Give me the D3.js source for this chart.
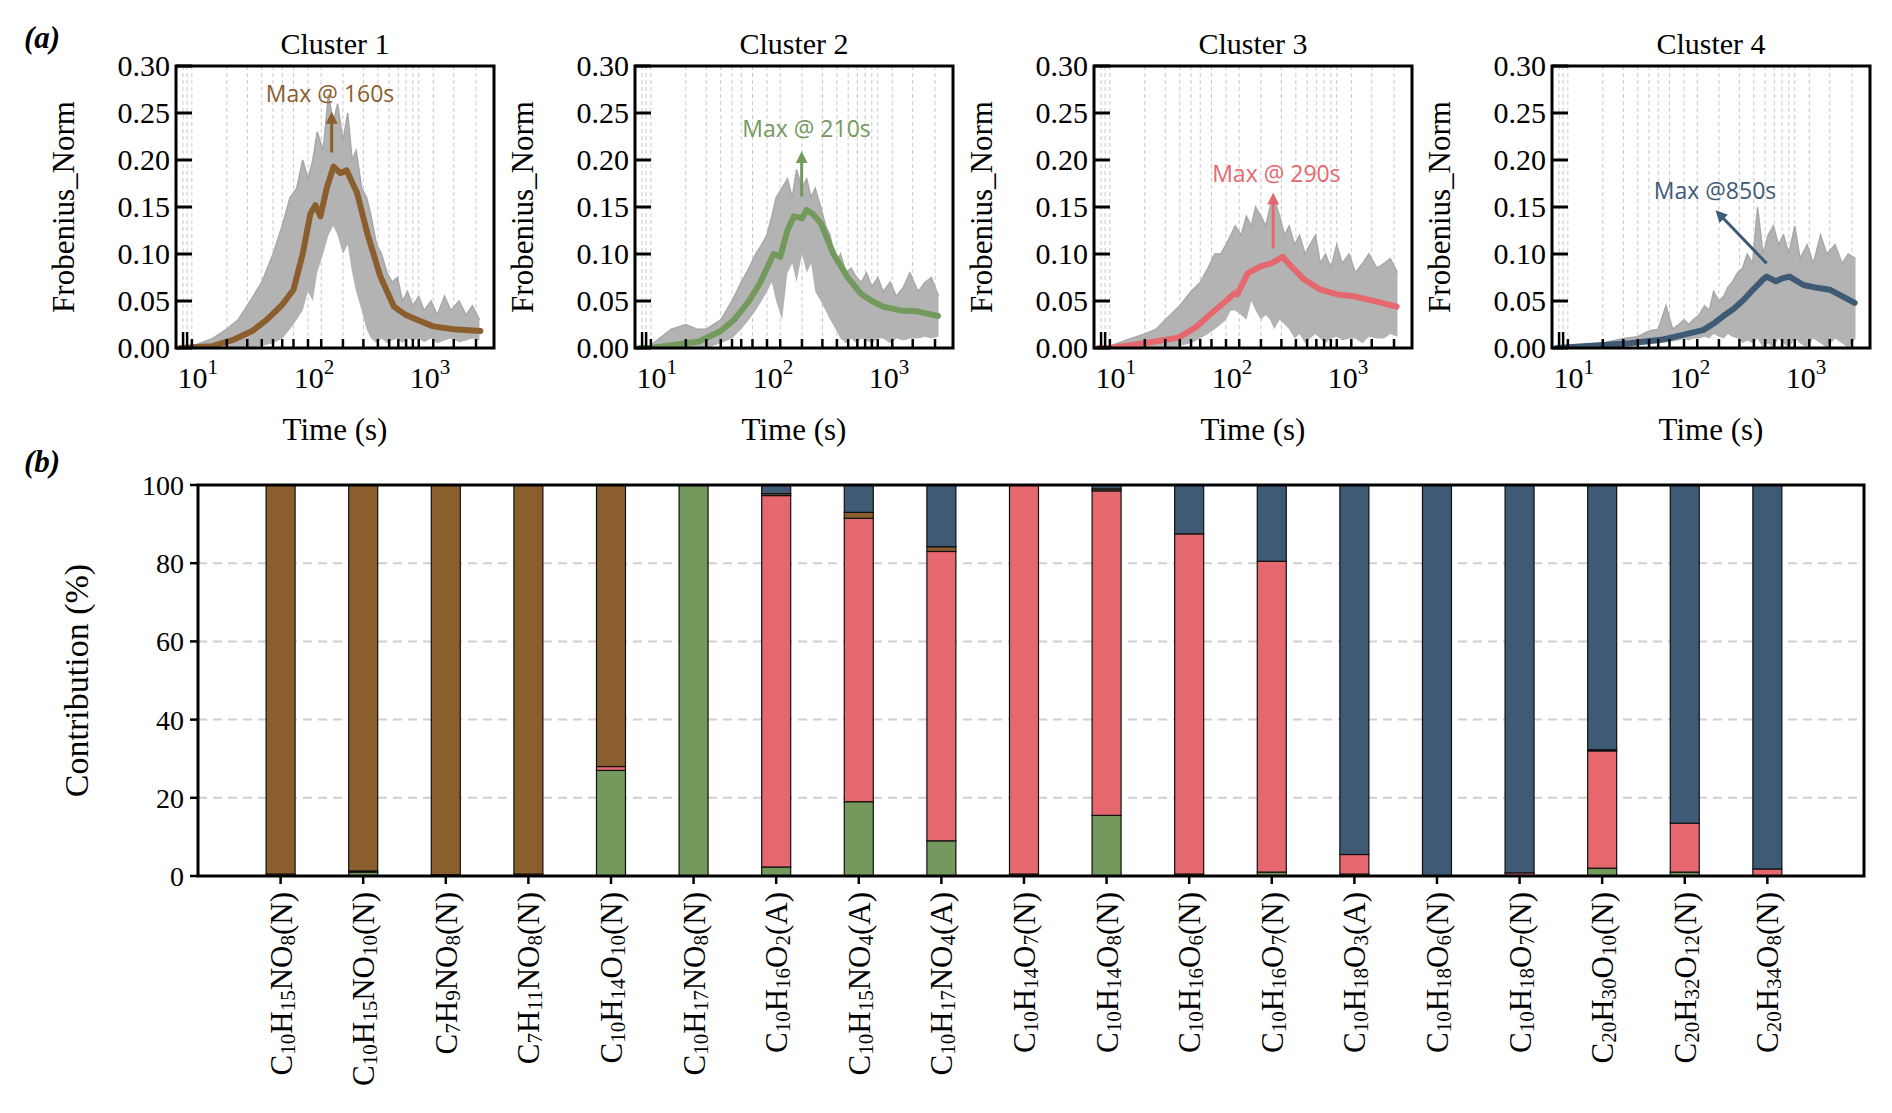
<!DOCTYPE html>
<html><head><meta charset="utf-8">
<script src="https://cdn.jsdelivr.net/npm/d3@7"></script>
<style>body{margin:0;background:#fff}svg{display:block}</style>
</head><body><div id="chart"></div>
<script>
const W = 1892, H = 1113;
const serif = "Liberation Serif, Times New Roman, serif";
const sans = "Open Sans, Noto Sans, sans-serif";

const clusterNames = ["Cluster 1", "Cluster 2", "Cluster 3", "Cluster 4"];
const clusterColors = ["#8B5E2E", "#74995C", "#E5686E", "#3F5A75"];

// sample times shown as dashed grid lines / rug ticks
const gridTimes = [8.4, 9.1, 10, 20, 30, 40, 50, 60, 75, 100, 130, 200, 300, 400, 500, 600, 700, 800, 900, 1200, 1800, 2800];

// main (mean) curves
const c1Times = [8, 15, 23, 33, 44, 60, 75, 90, 105, 116, 128, 145, 166, 190, 215, 240, 265, 324, 420, 550, 700, 870, 1200, 1800, 3050];
const c1Vals = [0, 0.002, 0.009, 0.018, 0.03, 0.046, 0.062, 0.1, 0.143, 0.152, 0.14, 0.17, 0.193, 0.186, 0.189, 0.176, 0.165, 0.122, 0.076, 0.044, 0.035, 0.03, 0.023, 0.02, 0.018];
const c2Times = [8, 10, 26, 40, 52, 70, 87, 114, 130, 150, 170, 200, 220, 250, 290, 374, 490, 640, 800, 1000, 1400, 1950, 2970];
const c2Vals = [0, 0, 0.007, 0.018, 0.03, 0.05, 0.069, 0.1, 0.097, 0.125, 0.14, 0.138, 0.147, 0.142, 0.133, 0.1, 0.076, 0.058, 0.05, 0.044, 0.04, 0.039, 0.034];
const c3Times = [8, 10, 20, 39, 55, 75, 100, 118, 125, 155, 200, 245, 270, 307, 363, 470, 650, 910, 1260, 1750, 2950];
const c3Vals = [0, 0, 0.005, 0.011, 0.022, 0.037, 0.05, 0.058, 0.057, 0.08, 0.087, 0.09, 0.093, 0.097, 0.087, 0.073, 0.062, 0.057, 0.055, 0.051, 0.044];
const c4Times = [8, 34, 66, 98, 146, 180, 218, 270, 325, 400, 480, 515, 620, 700, 810, 1070, 1400, 1800, 2950];
const c4Vals = [0, 0.005, 0.009, 0.014, 0.019, 0.026, 0.034, 0.042, 0.051, 0.063, 0.073, 0.076, 0.071, 0.074, 0.076, 0.067, 0.064, 0.062, 0.048];

// envelope of individual (grey) traces
const envTimes = [8, 10, 15, 20, 25, 30, 40, 50, 60, 70, 80, 90, 100, 110, 120, 135, 150, 165, 180, 200, 220, 240, 260, 290, 320, 350, 390, 430, 480, 530, 590, 650, 720, 800, 900, 1000, 1150, 1300, 1500, 1700, 2000, 2300, 2600, 3000];
const c1Upper = [0, 0.002, 0.01, 0.02, 0.03, 0.045, 0.07, 0.1, 0.13, 0.16, 0.17, 0.2, 0.18, 0.2, 0.23, 0.21, 0.27, 0.24, 0.26, 0.22, 0.25, 0.2, 0.21, 0.17, 0.16, 0.14, 0.11, 0.1, 0.08, 0.07, 0.075, 0.05, 0.06, 0.045, 0.055, 0.04, 0.05, 0.035, 0.055, 0.04, 0.05, 0.035, 0.045, 0.03];
const c1Lower = [0, 0, 0, 0, 0, 0, 0.002, 0.005, 0.01, 0.02, 0.03, 0.04, 0.06, 0.05, 0.08, 0.1, 0.12, 0.13, 0.12, 0.1, 0.11, 0.08, 0.06, 0.04, 0.02, 0.01, 0.005, 0.01, 0.005, 0.008, 0.01, 0.005, 0.01, 0.008, 0.01, 0.006, 0.01, 0.005, 0.008, 0.01, 0.006, 0.008, 0.01, 0.008];
const c2Upper = [0, 0.003, 0.02, 0.025, 0.02, 0.02, 0.03, 0.05, 0.07, 0.085, 0.1, 0.11, 0.12, 0.14, 0.16, 0.17, 0.18, 0.16, 0.19, 0.17, 0.18, 0.16, 0.17, 0.15, 0.13, 0.12, 0.09, 0.1, 0.08, 0.085, 0.075, 0.07, 0.08, 0.065, 0.075, 0.06, 0.07, 0.055, 0.065, 0.08, 0.06, 0.07, 0.075, 0.055];
const c2Lower = [0, 0, 0, 0, 0, 0, 0.005, 0.01, 0.02, 0.03, 0.04, 0.05, 0.06, 0.07, 0.05, 0.03, 0.08, 0.09, 0.07, 0.1, 0.08, 0.09, 0.06, 0.05, 0.04, 0.03, 0.02, 0.01, 0.005, 0.01, 0.005, 0.01, 0.008, 0.005, 0.01, 0.01, 0.005, 0.01, 0.008, 0.01, 0.01, 0.012, 0.01, 0.012];
const c3Upper = [0, 0.002, 0.01, 0.015, 0.02, 0.03, 0.045, 0.06, 0.07, 0.085, 0.1, 0.1, 0.11, 0.12, 0.13, 0.12, 0.14, 0.13, 0.15, 0.14, 0.13, 0.15, 0.16, 0.14, 0.12, 0.13, 0.11, 0.12, 0.1, 0.11, 0.12, 0.09, 0.1, 0.085, 0.11, 0.09, 0.1, 0.08, 0.09, 0.1, 0.085, 0.09, 0.095, 0.08];
const c3Lower = [0, 0, 0, 0, 0, 0, 0.002, 0.005, 0.01, 0.015, 0.02, 0.025, 0.03, 0.04, 0.04, 0.035, 0.03, 0.05, 0.04, 0.03, 0.035, 0.03, 0.02, 0.03, 0.025, 0.02, 0.01, 0.015, 0.005, 0.01, 0.015, 0.01, 0.005, 0.01, 0.012, 0.008, 0.01, 0.01, 0.005, 0.012, 0.01, 0.01, 0.015, 0.012];
const c4Upper = [0, 0.002, 0.003, 0.005, 0.008, 0.01, 0.012, 0.018, 0.02, 0.045, 0.02, 0.025, 0.03, 0.025, 0.03, 0.035, 0.045, 0.04, 0.06, 0.05, 0.055, 0.065, 0.07, 0.08, 0.085, 0.1, 0.09, 0.15, 0.1, 0.12, 0.13, 0.11, 0.12, 0.1, 0.13, 0.095, 0.11, 0.09, 0.12, 0.1, 0.11, 0.09, 0.1, 0.095];
const c4Lower = [0, 0, 0, 0, 0, 0.002, 0.003, 0.004, 0.005, 0.006, 0.007, 0.008, 0.01, 0.008, 0.01, 0.01, 0.012, 0.01, 0.015, 0.012, 0.01, 0.015, 0.012, 0.01, 0.005, 0.008, 0.005, 0.01, 0, 0.005, 0, 0.01, 0.005, 0, 0.01, 0.005, 0, 0.01, 0.005, 0, 0.01, 0.005, 0, 0.01];

// annotation: [textT, textY, arrowFromT, arrowFromY, arrowToT, arrowToY]
const maxLabels = ["Max @ 160s", "Max @ 210s", "Max @ 290s", "Max @850s"];
const maxNotes = [
  [155, 0.262, 160, 0.208, 160, 0.245],
  [219, 0.225, 199, 0.161, 199, 0.203],
  [272, 0.177, 255, 0.106, 255, 0.159],
  [185, 0.159, 515, 0.090, 203, 0.142]
];

const yTicksTop = [0, 0.05, 0.10, 0.15, 0.20, 0.25, 0.30];
const xTicksTop = [10, 100, 1000];

// panel (b)
const compounds = ["C10H15NO8(N)", "C10H15NO10(N)", "C7H9NO8(N)", "C7H11NO8(N)", "C10H14O10(N)", "C10H17NO8(N)",
  "C10H16O2(A)", "C10H15NO4(A)", "C10H17NO4(A)", "C10H14O7(N)", "C10H14O8(N)", "C10H16O6(N)", "C10H16O7(N)",
  "C10H18O3(A)", "C10H18O6(N)", "C10H18O7(N)", "C20H30O10(N)", "C20H32O12(N)", "C20H34O8(N)"];
// stack order bottom->top: cluster 2, cluster 3, cluster 1, cluster 4
const shareC2 = [0, 1, 0, 0, 27, 100, 2.3, 19, 9, 0.5, 15.5, 0.5, 1, 0.5, 0, 0, 2, 1, 0];
const shareC3 = [0.5, 0.3, 0.3, 0.5, 1, 0, 95, 72.5, 74, 99.5, 83, 87, 79.5, 5, 0, 0.8, 30, 12.5, 1.8];
const shareC1 = [99.5, 98.7, 99.7, 99.5, 72, 0, 0.5, 1.5, 1.2, 0, 0.5, 0, 0, 0, 0, 0, 0.3, 0, 0];
const shareC4 = [0, 0, 0, 0, 0, 0, 2.2, 7, 15.8, 0, 1, 12.5, 19.5, 94.5, 100, 99.2, 67.7, 86.5, 98.2];
const yTicksBottom = [0, 20, 40, 60, 80, 100];

const svg = d3.select("#chart").append("svg").attr("width", W).attr("height", H)
  .style("background", "#fff");

// ---------- panel (a) ----------
const panelLefts = [176, 635, 1094, 1552];
const pw = 318, pTop = 66, pBottom = 348;
const series = [[c1Times, c1Vals, c1Upper, c1Lower], [c2Times, c2Vals, c2Upper, c2Lower],
  [c3Times, c3Vals, c3Upper, c3Lower], [c4Times, c4Vals, c4Upper, c4Lower]];

const defs = svg.append("defs");
clusterColors.forEach((c, i) => {
  defs.append("marker").attr("id", "arr" + i).attr("viewBox", "0 0 10 10").attr("refX", 5).attr("refY", 5)
    .attr("markerWidth", 4).attr("markerHeight", 4).attr("orient", "auto-start-reverse")
    .append("path").attr("d", "M0,0 L10,5 L0,10 z").attr("fill", c);
});

panelLefts.forEach((left, i) => {
  const x = d3.scaleLog().domain([7.3, 4000]).range([left, left + pw]);
  const y = d3.scaleLinear().domain([0, 0.3]).range([pBottom, pTop]);
  const g = svg.append("g");
  const clipId = "clip" + i;
  defs.append("clipPath").attr("id", clipId).append("rect")
    .attr("x", left).attr("y", pTop).attr("width", pw).attr("height", pBottom - pTop);

  g.selectAll(".vg").data(gridTimes).enter().append("line")
    .attr("x1", d => x(d)).attr("x2", d => x(d)).attr("y1", pTop).attr("y2", pBottom)
    .attr("stroke", "#c8c8c8").attr("stroke-width", 1).attr("stroke-dasharray", "4,3");

  const [ts, vs, up, lo] = series[i];
  const env = envTimes.map((t, k) => ({ t, u: up[k], l: lo[k] }));
  const pg = g.append("g").attr("clip-path", `url(#${clipId})`);
  pg.append("path").datum(env)
    .attr("d", d3.area().x(d => x(d.t)).y0(d => y(d.l)).y1(d => y(d.u)))
    .attr("fill", "#b3b3b3");
  pg.append("path").datum(env).attr("fill", "none").attr("stroke", "#a8a8a8").attr("stroke-width", 1.5)
    .attr("d", d3.line().x(d => x(d.t)).y(d => y(d.u)));

  g.selectAll(".rug").data(gridTimes).enter().append("line")
    .attr("x1", d => x(d)).attr("x2", d => x(d)).attr("y1", pBottom)
    .attr("y2", (d, k) => pBottom - (k < 2 ? 16 : 9))
    .attr("stroke", "#000").attr("stroke-width", 2.5);

  const pts = ts.map((t, k) => ({ t, v: vs[k] }));
  pg.append("path").datum(pts).attr("fill", "none").attr("stroke", clusterColors[i])
    .attr("stroke-width", 6).attr("stroke-linejoin", "round").attr("stroke-linecap", "round")
    .attr("d", d3.line().x(d => x(d.t)).y(d => y(d.v)));

  g.selectAll(".yt").data(yTicksTop).enter().append("line")
    .attr("x1", left).attr("x2", left + 16).attr("y1", d => y(d)).attr("y2", d => y(d))
    .attr("stroke", "#000").attr("stroke-width", 3);
  g.selectAll(".ytl").data(yTicksTop).enter().append("text")
    .attr("x", left - 6).attr("y", d => y(d) + 10).attr("text-anchor", "end")
    .style("font-family", serif).style("font-size", "30px").text(d => d.toFixed(2));

  xTicksTop.forEach(v => {
    const t = g.append("text").attr("x", x(v) + 6).attr("y", 388).attr("text-anchor", "middle")
      .style("font-family", serif).style("font-size", "30px");
    t.append("tspan").text("10");
    t.append("tspan").attr("dy", -14).style("font-size", "21px").text(Math.round(Math.log10(v)));
  });

  g.append("rect").attr("x", left).attr("y", pTop).attr("width", pw).attr("height", pBottom - pTop)
    .attr("fill", "none").attr("stroke", "#000").attr("stroke-width", 3);

  g.append("text").attr("x", left + pw / 2).attr("y", 54).attr("text-anchor", "middle")
    .style("font-family", serif).style("font-size", "30px").text(clusterNames[i]);
  g.append("text").attr("x", left + pw / 2).attr("y", 440).attr("text-anchor", "middle")
    .style("font-family", serif).style("font-size", "31px").text("Time (s)");
  g.append("text").attr("transform", `translate(${left - 102},${(pTop + pBottom) / 2}) rotate(-90)`)
    .attr("text-anchor", "middle").style("font-family", serif).style("font-size", "31px").text("Frobenius_Norm");

  const n = maxNotes[i];
  g.append("line").attr("x1", x(n[2])).attr("y1", y(n[3])).attr("x2", x(n[4])).attr("y2", y(n[5]))
    .attr("stroke", clusterColors[i]).attr("stroke-width", 3).attr("marker-end", `url(#arr${i})`);
  g.append("text").attr("x", x(n[0])).attr("y", y(n[1])).attr("text-anchor", "middle")
    .attr("fill", clusterColors[i]).style("font-family", sans).style("font-size", "23px").text(maxLabels[i]);
});

svg.append("text").attr("x", 24).attr("y", 48).style("font-family", serif).style("font-size", "31px")
  .style("font-weight", "bold").style("font-style", "italic").text("(a)");
svg.append("text").attr("x", 24).attr("y", 472).style("font-family", serif).style("font-size", "31px")
  .style("font-weight", "bold").style("font-style", "italic").text("(b)");

// ---------- panel (b) ----------
const bl = 198, br = 1864, bt = 485, bb = 876;
const xb = d3.scaleLinear().domain([-1, 19.17]).range([bl, br]);
const yb = d3.scaleLinear().domain([0, 100]).range([bb, bt]);
const barW = 29;
const gb = svg.append("g");

gb.selectAll(".hg").data(yTicksBottom.filter(d => d > 0 && d < 100)).enter().append("line")
  .attr("x1", bl).attr("x2", br).attr("y1", d => yb(d)).attr("y2", d => yb(d))
  .attr("stroke", "#d0d0d0").attr("stroke-width", 2).attr("stroke-dasharray", "9,6");

const rows = compounds.map((c, i) => ({ c2: shareC2[i], c3: shareC3[i], c1: shareC1[i], c4: shareC4[i], i }));
const stack = d3.stack().keys(["c2", "c3", "c1", "c4"])(rows);
const keyColor = { c1: clusterColors[0], c2: clusterColors[1], c3: clusterColors[2], c4: clusterColors[3] };
stack.forEach(layer => {
  gb.selectAll(null).data(layer.filter(d => d[1] - d[0] > 0)).enter().append("rect")
    .attr("x", d => xb(d.data.i) - barW / 2).attr("width", barW)
    .attr("y", d => yb(d[1])).attr("height", d => yb(d[0]) - yb(d[1]))
    .attr("fill", keyColor[layer.key]).attr("stroke", "#111").attr("stroke-width", 1.2);
});

gb.append("rect").attr("x", bl).attr("y", bt).attr("width", br - bl).attr("height", bb - bt)
  .attr("fill", "none").attr("stroke", "#000").attr("stroke-width", 3);

gb.selectAll(".ybt").data(yTicksBottom).enter().append("line")
  .attr("x1", bl - 8).attr("x2", bl).attr("y1", d => yb(d)).attr("y2", d => yb(d))
  .attr("stroke", "#000").attr("stroke-width", 2.5);
gb.selectAll(".ybl").data(yTicksBottom).enter().append("text")
  .attr("x", bl - 14).attr("y", d => yb(d) + 10).attr("text-anchor", "end")
  .style("font-family", serif).style("font-size", "28px").text(d => d);
gb.append("text").attr("transform", `translate(88,${(bt + bb) / 2}) rotate(-90)`).attr("text-anchor", "middle")
  .style("font-family", serif).style("font-size", "34px").text("Contribution (%)");

compounds.forEach((c, i) => {
  gb.append("line").attr("x1", xb(i)).attr("x2", xb(i)).attr("y1", bb).attr("y2", bb + 8)
    .attr("stroke", "#000").attr("stroke-width", 2.5);
  const t = gb.append("text").attr("transform", `translate(${xb(i) + 11},${bb + 16}) rotate(-90)`)
    .attr("text-anchor", "end").style("font-family", serif).style("font-size", "31px");
  c.match(/[A-Za-z()]+|\d+/g).forEach(tok => {
    if (/^\d+$/.test(tok)) t.append("tspan").attr("baseline-shift", "-15%").style("font-size", "21px").text(tok);
    else t.append("tspan").text(tok);
  });
});
</script></body></html>
